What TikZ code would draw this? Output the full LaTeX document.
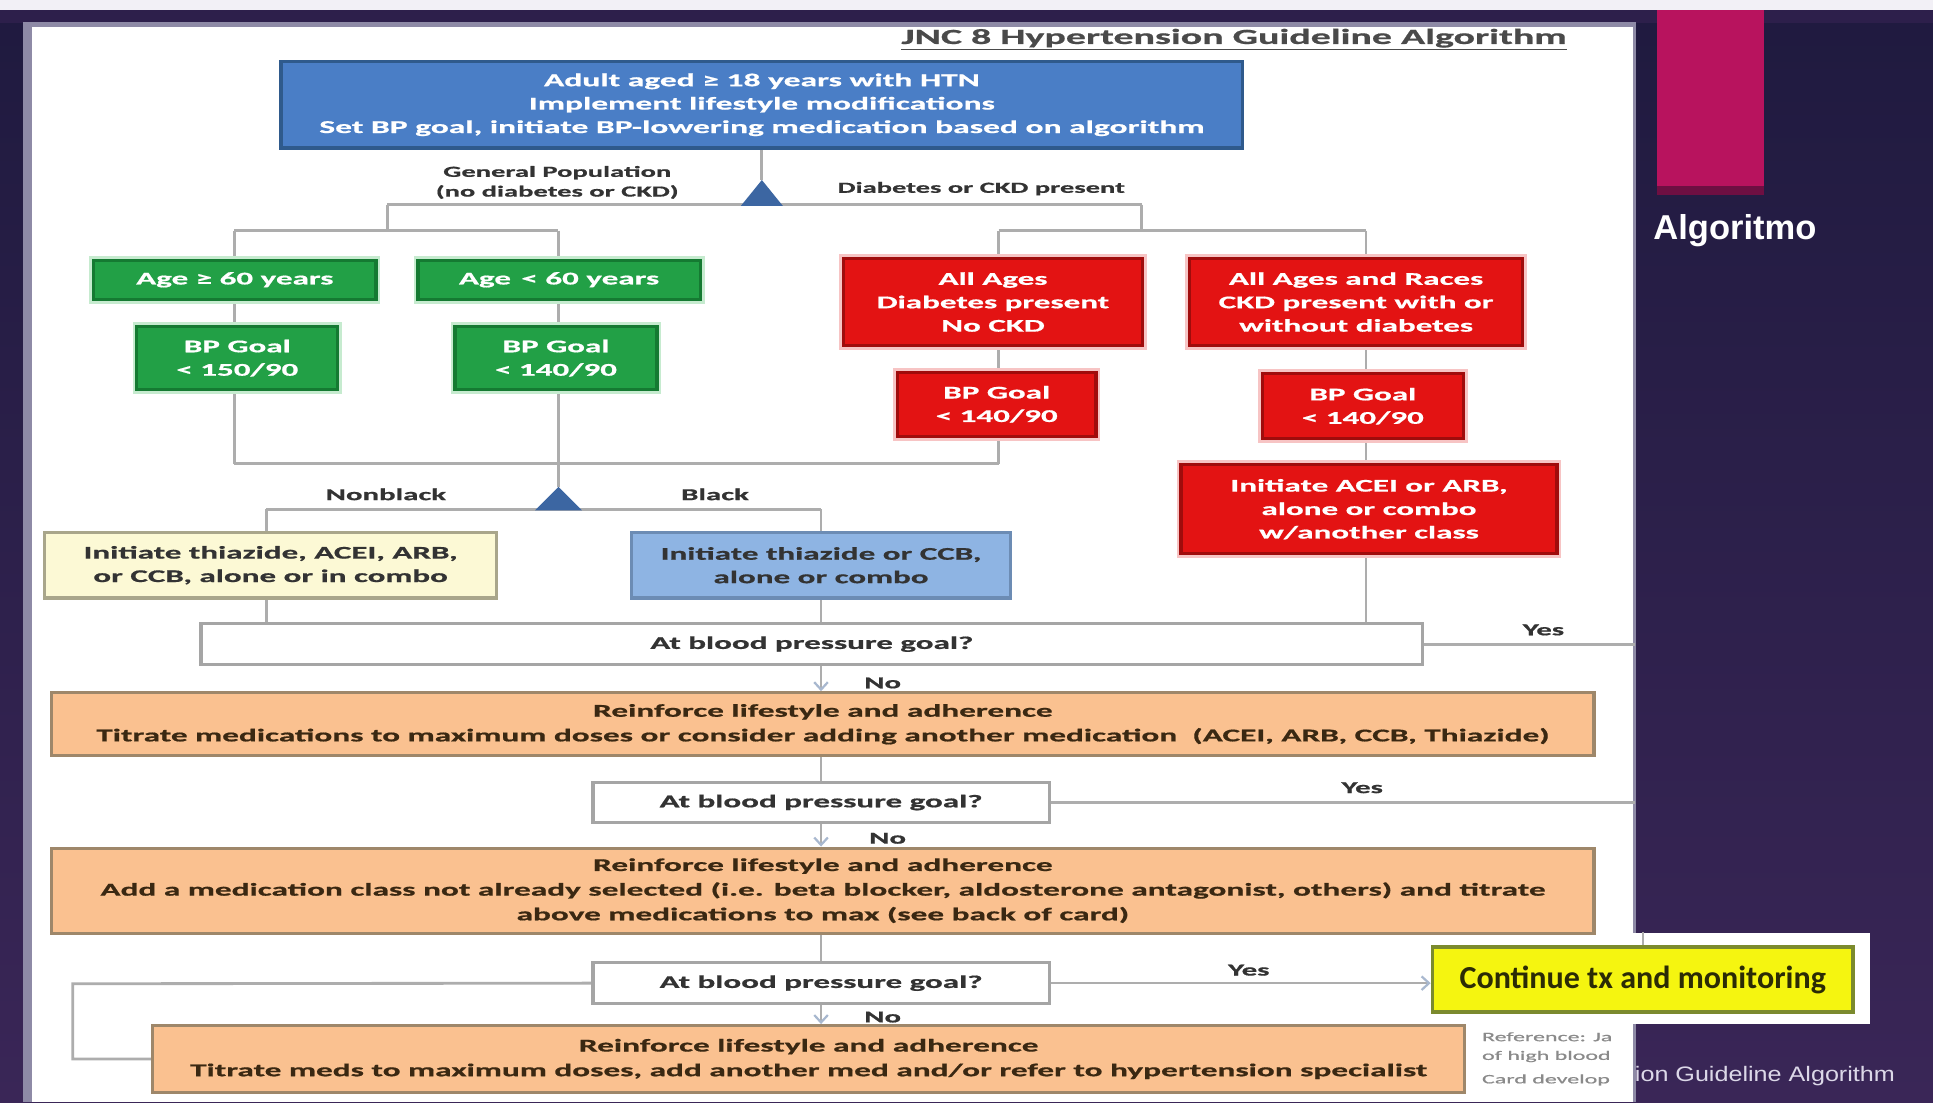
\documentclass[tikz,border=0pt]{standalone}
\usepackage{fontspec}
\setmainfont{Carlito}
\newfontfamily\wf[FakeStretch=1.85,FakeBold=0.8]{Carlito}
\newfontfamily\capfont[FakeStretch=1.2]{Liberation Sans}
\newfontfamily\headfont{Liberation Sans}
\usetikzlibrary{arrows.meta}
\pgfdeclarelayer{panel}
\pgfdeclarelayer{wires}
\pgfsetlayers{panel,wires,main}
\newcommand\fsz[2]{\fontsize{#1}{#2}\selectfont}
\definecolor{topf}{HTML}{4A7EC6}
\definecolor{topd}{HTML}{2F5A8C}
\definecolor{tric}{HTML}{3C66A2}
\definecolor{grnf}{HTML}{22A046}
\definecolor{grnd}{HTML}{157A32}
\definecolor{grnh}{HTML}{C6EBCF}
\definecolor{redf}{HTML}{E31313}
\definecolor{redd}{HTML}{A00C0C}
\definecolor{redh}{HTML}{F7C4C4}
\definecolor{ylwf}{HTML}{FCF9D5}
\definecolor{ylwd}{HTML}{A9A68B}
\definecolor{bluf}{HTML}{8EB4E3}
\definecolor{blud}{HTML}{6C8CB4}
\definecolor{qd}{HTML}{A5A5A5}
\definecolor{orf}{HTML}{FAC190}
\definecolor{ord}{HTML}{9E876A}
\definecolor{ortxt}{HTML}{3A2812}
\definecolor{finf}{HTML}{F5F510}
\definecolor{find}{HTML}{7B8A2E}
\definecolor{fintxt}{HTML}{2B2B05}
\definecolor{wirec}{HTML}{ADADAD}
\definecolor{arrc}{HTML}{A8B8CF}
\definecolor{txt}{HTML}{333333}
\definecolor{titc}{HTML}{4A4A4A}
\definecolor{mag}{HTML}{B8135E}
\definecolor{magd}{HTML}{6E0F42}
\definecolor{bgtop}{HTML}{1F1A3F}
\definecolor{bgbot}{HTML}{3A2657}
\definecolor{band}{HTML}{2D1F4B}
\definecolor{paneledge}{HTML}{8E8AA6}
\definecolor{strip}{HTML}{F2F0F6}
\definecolor{reftxt}{HTML}{8A8A8A}
\definecolor{captxt}{HTML}{DCD8E8}
\begin{document}
\begin{tikzpicture}[x=1pt,y=-1pt,
  wire/.style={draw=wirec, line width=2.3pt},
  flow/.style={draw=wirec, line width=2pt,
    -{Straight Barb[length=6pt,width=11pt,line width=1.8pt,color=arrc]}},
  sz/.style 2 args={minimum width=#1pt, minimum height=#2pt},
  box/.style={line width=2.6pt, inner sep=0pt, align=center,
    font=\wf\bfseries\fsz{14.5}{19}},
  grn/.style={box, fill=grnf, draw=grnd, text=white,
    preaction={draw=grnh, line width=7pt}},
  red/.style={box, fill=redf, draw=redd, text=white,
    preaction={draw=redh, line width=7pt}},
  qbox/.style={box, fill=white, draw=qd, text=txt},
  orng/.style={box, fill=orf, draw=ord, text=ortxt,
    font=\wf\bfseries\fsz{14.6}{20}},
  lbl/.style={inner sep=0pt, text=txt, font=\wf\bfseries\fsz{13.5}{16}},
  small/.style={inner sep=0pt, text=txt, font=\wf\bfseries\fsz{12.5}{16}, align=center},
]
% ---- slide background and panel ----
\begin{pgfonlayer}{panel}
  \shade[top color=bgtop, bottom color=bgbot] (0,0) rectangle (1568,894);
  \fill[strip] (0,0) rectangle (1568,8);
  \fill[band] (0,8) rectangle (1568,19);
  \fill[paneledge] (19,18) rectangle (1327,894);
  \fill[white] (26,22) rectangle (1325,894);
  \fill[mag] (1344,8) rectangle (1431,151);
  \fill[magd] (1344,151) rectangle (1431,158);
  \fill[white] (1148,757) rectangle (1517,831);
\end{pgfonlayer}

\node[anchor=base west, inner sep=0pt, text=white,
  font=\headfont\bfseries\fsz{28}{30}] (slidetitle) at (1341,194) {Algoritmo};

% ---- heading ----
\node[inner sep=0pt, text=titc, font=\wf\bfseries\fsz{17.5}{20}] (title) at (1001,32)
  {\underline{JNC 8 Hypertension Guideline Algorithm}};

% ---- boxes ----
\node[box, fill=topf, draw=topd, text=white, sz={780}{70},
  font=\wf\bfseries\fsz{14.7}{19}] (top) at (618,85)
  {Adult aged ≥ 18 years with HTN\\Implement lifestyle modifications\\
   Set BP goal, initiate BP-lowering medication based on algorithm};

\node[grn, sz={229}{32}] (age1) at (190.5,227) {Age ≥ 60 years};
\node[grn, sz={229}{32}] (age2) at (453.5,227) {Age \,< 60 years};
\node[grn, sz={163}{51}] (goal1) at (192.5,290.5) {BP Goal\\< 150/90};
\node[grn, sz={164}{51}] (goal2) at (451,290.5) {BP Goal\\< 140/90};

\node[red, sz={243}{71}] (dm) at (805.5,245) {All Ages\\Diabetes present\\No CKD};
\node[red, sz={270}{71}] (ckd) at (1100,245) {All Ages and Races\\CKD present with or\\without diabetes};
\node[red, sz={161}{52}] (dmgoal) at (808.5,328) {BP Goal\\< 140/90};
\node[red, sz={163}{53}] (ckdgoal) at (1105.5,329.5) {BP Goal\\< 140/90};
\node[red, sz={305}{72}] (ckdrx) at (1110.5,413) {Initiate ACEI or ARB,\\alone or combo\\w/another class};

\node[box, fill=ylwf, draw=ylwd, text=txt, sz={367}{53}] (nonblk) at (219.5,458.5)
  {Initiate thiazide, ACEI, ARB,\\or CCB, alone or in combo};
\node[box, fill=bluf, draw=blud, text=txt, sz={308}{53}] (blk) at (666,458.5)
  {Initiate thiazide or CCB,\\alone or combo};

\node[qbox, sz={991}{33}] (q1) at (658.5,522.5) {At blood pressure goal?};
\node[orng, sz={1251}{51}] (or1) at (667.5,587.5)
  {Reinforce lifestyle and adherence\\
   Titrate medications to maximum doses or consider adding another medication \ (ACEI, ARB, CCB, Thiazide)};
\node[qbox, sz={370}{32}] (q2) at (666,651) {At blood pressure goal?};
\node[orng, sz={1251}{69}] (or2) at (667.5,722.5)
  {Reinforce lifestyle and adherence\\
   Add a medication class not already selected (i.e. beta blocker, aldosterone antagonist, others) and titrate\\
   above medications to max (see back of card)};
\node[qbox, sz={370}{33}] (q3) at (666,797.5) {At blood pressure goal?};
\node[orng, sz={1064}{54}] (or3) at (656,859)
  {Reinforce lifestyle and adherence\\
   Titrate meds to maximum doses, add another med and/or refer to hypertension specialist};

\node[box, fill=finf, draw=find, text=fintxt, line width=3pt, sz={341}{53},
  font=\bfseries\fsz{26}{28}] (fin) at (1332.5,794.5) {Continue tx and monitoring};

% ---- branch markers ----
\coordinate (apex1) at (618,146);
\fill[tric] (601,167) -- (635,167) -- (apex1) -- cycle;
\coordinate (apex2) at (453,395);
\fill[tric] (434,414) -- (472,414) -- (apex2) -- cycle;

% ---- junction points ----
\coordinate (splitL) at (314,166);
\coordinate (splitR) at (926,166);
\coordinate (gpDrop) at (314,187);
\coordinate (ageL) at (190,187);
\coordinate (ageR) at (453,187);
\coordinate (dkDrop) at (926,187);
\coordinate (dkL) at (810,187);
\coordinate (dkR) at (1108,187);
\coordinate (mergeL) at (190,376);
\coordinate (mergeR) at (810,376);
\coordinate (raceL) at (216,413);
\coordinate (raceR) at (666,413);
\coordinate (edge1) at (1326,522.5);
\coordinate (edge2) at (1326,651);
\coordinate (loopA) at (59,798);
\coordinate (loopB) at (59,859);

% ---- connectors ----
\begin{pgfonlayer}{wires}
  \draw[wire] (top.south) -- (apex1);
  \draw[wire] (splitL) -- (splitR);
  \draw[wire] (splitL) -- (gpDrop);
  \draw[wire] (ageL) -- (ageR);
  \draw[wire] (ageL) -- (mergeL);
  \draw[wire] (ageR) -- (apex2);
  \draw[wire] (splitR) -- (dkDrop);
  \draw[wire] (dkL) -- (dkR);
  \draw[wire] (dkL) -- (mergeR);
  \draw[wire] (mergeL) -- (mergeR);
  \draw[wire] (dkR) -- (dkR |- q1.north);
  \draw[wire] (raceL) -- (raceR);
  \draw[wire] (raceL) -- (raceL |- q1.north);
  \draw[wire] (raceR) -- (raceR |- q1.north);
  \draw[wire] (q1.east) -- (edge1);
  \draw[flow] (raceR |- q1.south) -- (raceR |- or1.north);
  \draw[wire] (q2 |- or1.south) -- (q2.north);
  \draw[wire] (q2.east) -- (edge2);
  \draw[flow] (q2.south) -- (q2 |- or2.north);
  \draw[wire] (q3 |- or2.south) -- (q3.north);
  \draw[flow] (q3.south) -- (q3 |- or3.north);
  \draw[flow] (q3.east) -- (q3.east -| fin.west);
  \draw[wire] (q3.west) -- (loopA) -- (loopB) -- (or3.west);
  \draw[wire, line width=1.5pt] (1333,756) -- (fin.north -| 1333,0);
\end{pgfonlayer}

% ---- branch labels ----
\node[small] (gp) at (452,148) {General Population\\(no diabetes or CKD)};
\node[small] (dk) at (796,153) {Diabetes or CKD present};
\node[lbl] (nb) at (313,401) {Nonblack};
\node[lbl] (bk) at (580,401) {Black};
\node[lbl] (yes1) at (1252,511) {Yes};
\node[lbl] (no1) at (716,554) {No};
\node[lbl] (yes2) at (1105,639) {Yes};
\node[lbl] (no2) at (720,680) {No};
\node[lbl] (yes3) at (1013,787) {Yes};
\node[lbl] (no3) at (716,825) {No};

% ---- footnote, partly covered by the slide frame ----
\begin{scope}
  \clip (1195,832) rectangle (1325,894);
  \node[anchor=west, inner sep=0pt, text=reftxt, font=\wf\fsz{10.5}{12}] (ref1) at (1202,841) {Reference: Ja};
  \node[anchor=west, inner sep=0pt, text=reftxt, font=\wf\fsz{10.5}{12}] (ref2) at (1202,857) {of high blood};
  \node[anchor=west, inner sep=0pt, text=reftxt, font=\wf\fsz{10.5}{12}] (ref3) at (1202,876) {Card develop};
\end{scope}
\node[anchor=west, inner sep=0pt, text=captxt, font=\capfont\fsz{17}{19}] (caption) at (1326,873)
  {ion Guideline Algorithm};
\end{tikzpicture}
\end{document}
